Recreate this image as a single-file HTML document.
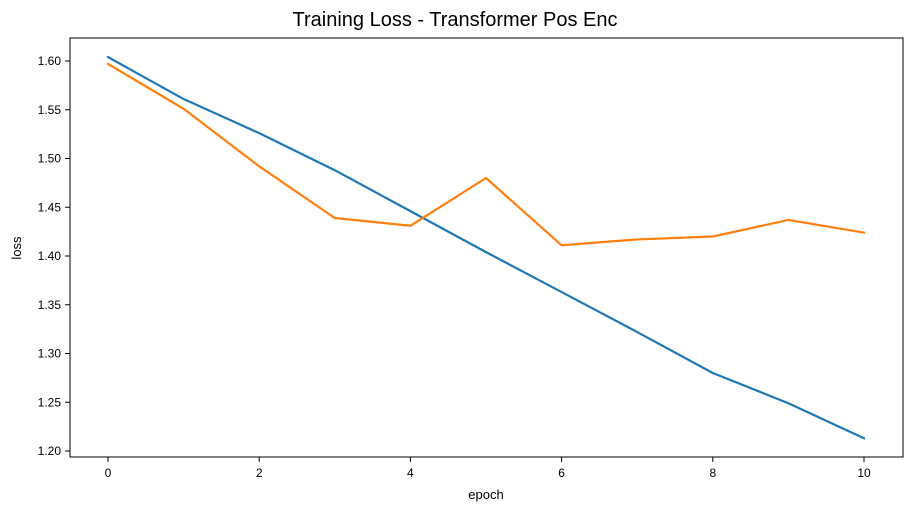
<!DOCTYPE html>
<html><head><meta charset="utf-8"><style>
body{margin:0;background:#fff;font-family:"Liberation Sans","DejaVu Sans",sans-serif;}
</style></head><body>
<svg id="chart" width="911" height="511" xmlns="http://www.w3.org/2000/svg">
<text x="455" y="26" text-anchor="middle" font-size="20" fill="#000">Training Loss - Transformer Pos Enc</text>
<g id="grid"></g>
<rect x="70" y="38" width="833" height="419" fill="none" stroke="#000" stroke-width="1"/>
<text x="486" y="499" text-anchor="middle" font-size="13">epoch</text>
<text x="21" y="248" text-anchor="middle" font-size="13" transform="rotate(-90 21 248)">loss</text>
</svg>
<script>
const epochs=[0,1,2,3,4,5,6,7,8,9,10];
const seriesA=[1.604,1.561,1.526,1.488,1.446,1.404,1.363,1.322,1.280,1.249,1.213];
const seriesB=[1.597,1.551,1.492,1.439,1.431,1.480,1.411,1.417,1.420,1.437,1.424];
const xTicks=[0,2,4,6,8,10];
const yTicks=[1.20,1.25,1.30,1.35,1.40,1.45,1.50,1.55,1.60];
const svg=document.getElementById('chart');
const NS='http://www.w3.org/2000/svg';
function xs(v){return 108+v*75.6;}
function ys(v){return 451-(v-1.2)*975;}
function mk(t,a){const e=document.createElementNS(NS,t);for(const k in a)e.setAttribute(k,a[k]);svg.appendChild(e);return e;}
xTicks.forEach(t=>{
  const l=mk('line',{x1:xs(t),x2:xs(t),y1:457,y2:462,stroke:'#000'});
  
  
  const tx=mk('text',{x:xs(t),y:477,'text-anchor':'middle','font-size':12});
  tx.textContent=t;
  
  
});
yTicks.forEach(t=>{
  const l=mk('line',{x1:65,x2:70,y1:ys(t),y2:ys(t),stroke:'#000'});
  
  
  const tx=mk('text',{x:61,y:ys(t)+4,'text-anchor':'end','font-size':12});
  tx.textContent=t.toFixed(2);
  
  
});
function line(vals,color,name){
  const p=mk('polyline',{points:vals.map((v,i)=>xs(epochs[i])+','+ys(v)).join(' '),fill:'none',stroke:color,'stroke-width':2.2,'stroke-linejoin':'round','stroke-linecap':'square'});
  
  
}
line(seriesA,'#1f77b4','series-blue-line');
line(seriesB,'#ff7f0e','series-orange-line');
</script>
</body></html>
